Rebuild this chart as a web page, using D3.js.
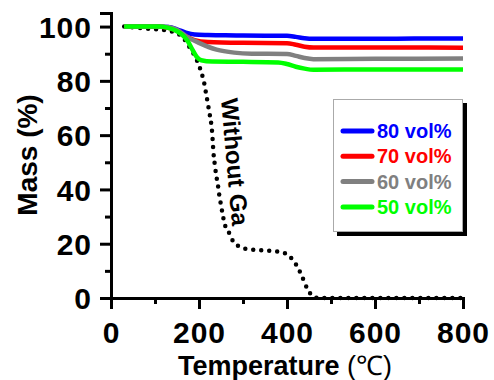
<!DOCTYPE html>
<html>
<head>
<meta charset="utf-8">
<script src="https://cdn.jsdelivr.net/npm/d3@7"></script>
<style>
  body { margin: 0; background: #fff; }
  text { font-family: "Liberation Sans", Arial, sans-serif; font-weight: bold; }
</style>
</head>
<body>
<svg id="chart" width="494" height="380"></svg>
<script>
// TGA curves: temperature (C) and mass (%)
var blueT  = [30, 100, 130, 150, 170, 190, 220, 260, 300, 400, 420, 440, 460, 500, 600, 700, 800];
var blueM  = [100, 100, 99.8, 99, 97.8, 97.1, 96.9, 96.8, 96.7, 96.6, 96.2, 95.7, 95.5, 95.5, 95.5, 95.6, 95.6];
var redT   = [30, 100, 130, 150, 170, 190, 220, 300, 400, 420, 440, 460, 600, 800];
var redM   = [100, 100, 99.6, 98.5, 96.5, 95, 94.3, 94, 93.9, 93.3, 92.6, 92.3, 92.3, 92.2];
var grayT  = [30, 100, 130, 150, 170, 200, 240, 280, 320, 400, 420, 440, 460, 600, 800];
var grayM  = [100, 100, 99.8, 98.8, 96.5, 94, 91.5, 90.4, 90, 89.9, 89.2, 88.4, 88, 88.1, 88.2];
var greenT = [30, 110, 130, 150, 165, 175, 185, 195, 205, 230, 300, 380, 400, 420, 440, 460, 600, 800];
var greenM = [100, 100, 99.5, 98.3, 96.5, 94.5, 91.5, 88.8, 87.6, 87.1, 87, 86.8, 86.2, 85.2, 84.5, 84.1, 84.2, 84.2];
var noGaT  = [30, 70, 130, 160, 180, 198, 206, 212, 216, 220, 224, 230, 233, 236, 239, 243, 246, 250, 254, 259, 269, 278, 293, 312, 340, 385, 405, 420, 432, 446, 460, 470, 800];
var noGaM  = [100, 99.4, 98.5, 96.5, 92, 86.5, 82.8, 79, 75.4, 71.7, 68, 60.7, 53.3, 49, 45.3, 41.6, 38, 34.3, 30.6, 26.9, 23.8, 20.7, 18.9, 17.9, 17.6, 17, 15.5, 12.5, 8.8, 3.5, 0.5, 0, 0];

var legendNames  = ["80 vol%", "70 vol%", "60 vol%", "50 vol%"];
var legendColors = ["#0000ff", "#ff0000", "#808080", "#00ff00"];
var xTicks = [0, 200, 400, 600, 800];
var xMinor = [100, 300, 500, 700];
var yTicks = [0, 20, 40, 60, 80, 100];
var yMinor = [10, 30, 50, 70, 90];

var svg = d3.select("#chart");
var x = d3.scaleLinear().domain([0, 800]).range([111, 463]);
var y = d3.scaleLinear().domain([0, 105]).range([298, 13]);

function pts(T, M) { return T.map(function(t, i) { return [t, M[i]]; }); }
var line = d3.line().x(d => x(d[0])).y(d => y(d[1])).curve(d3.curveMonotoneX);

// axes
var gx = svg.append("g").attr("transform", "translate(0,298)");
gx.call(d3.axisBottom(x).tickValues(xTicks).tickSize(11).tickPadding(12).tickFormat(d3.format("d")));
var gxm = svg.append("g").attr("transform", "translate(0,298)");
gxm.call(d3.axisBottom(x).tickValues(xMinor).tickSize(6).tickFormat(""));
var gy = svg.append("g").attr("transform", "translate(111,0)");
gy.call(d3.axisLeft(y).tickValues(yTicks).tickSize(11).tickPadding(8).tickFormat(d3.format("d")));
var gym = svg.append("g").attr("transform", "translate(111,0)");
gym.call(d3.axisLeft(y).tickValues(yMinor).tickSize(6).tickFormat(""));

[gx, gxm, gy, gym].forEach(function(g) {
    g.selectAll("path").attr("stroke", "#000").attr("stroke-width", 3);
    g.selectAll("line").attr("stroke", "#000").attr("stroke-width", 3);
    g.selectAll("text").attr("fill", "#000").style("font-size", "30px").style("letter-spacing", "1px")
        .style("font-family", "'Liberation Sans', Arial, sans-serif").style("font-weight", "bold");
});
gy.selectAll("text").attr("dy", "0.36em");
gx.selectAll("text").attr("dy", "0.72em");

// curves
var series = [
    {data: pts(blueT, blueM), color: legendColors[0]},
    {data: pts(redT, redM), color: legendColors[1]},
    {data: pts(grayT, grayM), color: legendColors[2]}
];
svg.append("path").attr("d", line(pts(noGaT, noGaM)))
    .attr("fill", "none").attr("stroke", "#000").attr("stroke-width", 4.5)
    .attr("stroke-linecap", "round").attr("stroke-dasharray", "0 8");
series.forEach(function(s) {
    svg.append("path").attr("d", line(s.data)).attr("fill", "none")
        .attr("stroke", s.color).attr("stroke-width", 4.5);
});
svg.append("path").attr("d", line(pts(greenT, greenM))).attr("fill", "none")
    .attr("stroke", legendColors[3]).attr("stroke-width", 4.5);

svg.append("text").attr("transform", "translate(221,99) rotate(85)")
    .style("font-size", "24px").attr("fill", "#000").text("Without Ga");

// axis titles
svg.append("text").attr("transform", "translate(37,155) rotate(-90)")
    .attr("text-anchor", "middle").style("font-size", "28px").text("Mass (%)");
var xt = svg.append("text").attr("x", 285).attr("y", 375).attr("text-anchor", "middle").style("font-size", "27px");
xt.append("tspan").text("Temperature ");
xt.append("tspan").style("font-weight", "normal").text("(℃)");

// legend
var lg = svg.append("g");
lg.append("rect").attr("x", 337).attr("y", 103).attr("width", 130).attr("height", 133).attr("fill", "#000");
lg.append("rect").attr("x", 333.5).attr("y", 99.5).attr("width", 129).attr("height", 132)
    .attr("fill", "#fff").attr("stroke", "#aaa").attr("stroke-width", 1);
legendNames.forEach(function(n, i) {
    var ly = 131 + i * 25.3;
    lg.append("line").attr("x1", 343).attr("x2", 372).attr("y1", ly).attr("y2", ly)
        .attr("stroke", legendColors[i]).attr("stroke-width", 5).attr("stroke-linecap", "round");
    lg.append("text").attr("x", 377).attr("y", ly + 7).attr("fill", legendColors[i])
        .style("font-size", "20px").text(n);
});
</script>
</body>
</html>
